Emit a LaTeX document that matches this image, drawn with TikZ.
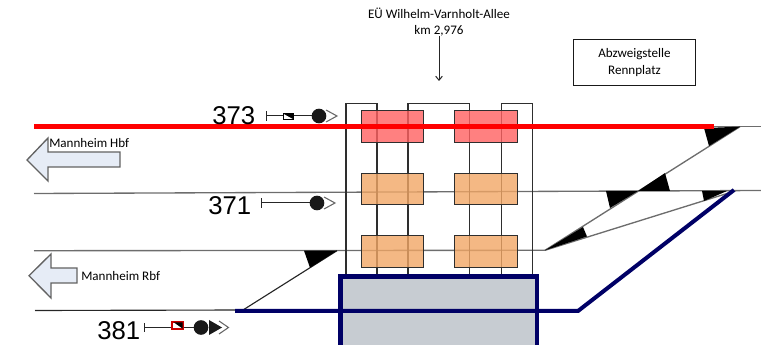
\documentclass[tikz,border=0pt]{standalone}
\usepackage{fontspec}
\setmainfont{Carlito}
\newfontfamily\numfont{Liberation Sans}
\usetikzlibrary{arrows.meta}
\definecolor{navy}{HTML}{000066}
\definecolor{boxred}{HTML}{FF6060}
\definecolor{boxorange}{HTML}{F1A665}
\definecolor{arrowfill}{HTML}{E6ECF6}
\definecolor{darkline}{HTML}{2E2E2E}
\definecolor{abutment}{HTML}{C7CCD2}
\tikzset{
  x=0.75pt,y=-0.75pt,
  track/.style={draw=darkline!70,line width=1pt},
  blacktrack/.style={draw=black!85,line width=0.85pt},
  bridgeline/.style={draw=darkline,line width=0.95pt},
  frog/.style={fill=black,draw=none},
  sigbox/.style={fill opacity=.8,draw=darkline,draw opacity=1,line width=0.95pt,minimum width=47pt,inner sep=0pt},
  redbox/.style={sigbox,fill=boxred,minimum height=23.5pt},
  orangebox/.style={sigbox,fill=boxorange,minimum height=23.5pt},
  dirarrow/.style={fill=arrowfill,draw=darkline!75,line width=1pt,line join=miter},
  lbl/.style={font=\fontsize{9.8}{11}\selectfont,inner sep=0pt,text=black},
  num/.style={font=\numfont\fontsize{19.3}{22}\selectfont,inner sep=0pt,text=black},
  sigline/.style={draw=black!85,line width=0.75pt},
  chevron/.style={draw=black!60,line width=0.8pt},
  lamp/.style={circle,fill=black!90,minimum size=11pt,inner sep=0pt},
  redline/.style={draw=red,line width=3.8pt},
  navyline/.style={draw=navy,line width=3pt}
}
\begin{document}
\begin{tikzpicture}
\useasboundingbox (0,0) rectangle (761,345);
\clip (0,0) rectangle (761,345);
% coordinates
\coordinate (L1) at (34,193.5);
\coordinate (R1) at (761,190.5);
\coordinate (L2) at (34,250.7);
\coordinate (J2) at (545,250.3);
\coordinate (L3) at (35,310.5);
\coordinate (J3) at (243,310);
\coordinate (S3) at (337,250.7);
\coordinate (T1) at (714,126.7);
\coordinate (T2) at (761,126.7);
\coordinate (D1) at (740,126.7);
\coordinate (D2) at (736,190.7);
% tracks
\draw[track] (L1) -- (R1);
\draw[track] (L2) -- (J2);
\draw[track] (J2) -- (D1);
\draw[track] (T1) -- (T2);
\draw[track] (J2) -- (D2);
\draw[blacktrack] (L3) -- (J3) -- (S3);
% frogs
\fill[frog] (304,250.7) -- (337,250.7) -- (310,267.7) -- cycle;
\fill[frog] (704,128) -- (740,126.7) -- (709,146) -- cycle;
\fill[frog] (665,173) -- (670,191) -- (638,191) -- cycle;
\fill[frog] (606,191) -- (638,191) -- (610,208) -- cycle;
\fill[frog] (545,250.3) -- (583,227) -- (587,236.5) -- cycle;
\fill[frog] (702,191) -- (727,191) -- (704,201) -- cycle;
% bridge structure
\draw[bridgeline] (346,276) -- (346,103.5) -- (377,103.5) -- (377,276);
\draw[bridgeline] (408,276) -- (408,103.5) -- (469.5,103.5) -- (469.5,276);
\draw[bridgeline] (501.5,276) -- (501.5,103.5) -- (532.5,103.5) -- (532.5,276);
% boxes
\node[redbox] (a1) at (392.5,126.5) {};
\node[redbox] (a2) at (486,126.5) {};
\node[orangebox] (b1) at (392.5,189) {};
\node[orangebox] (b2) at (486,189) {};
\node[orangebox] (c1) at (392.5,251.5) {};
\node[orangebox] (c2) at (486,251.5) {};
% abutment
\draw[navy,line width=3.6pt,fill=abutment] (340.5,276.5) rectangle (537,360);
% red and navy tracks
\draw[redline] (34,126.5) -- (714,126.5);
\draw[navyline] (235,311) -- (578,311) -- (734,190);
% direction arrows
\path[dirarrow] (27,160) -- (48,138) -- (48,152) -- (120,152) -- (120,167) -- (48,167) -- (48,181) -- cycle;
\path[dirarrow] (29,275.7) -- (51,254) -- (51,268) -- (77,268) -- (77,283) -- (51,283) -- (51,298) -- cycle;
\node[lbl,anchor=west] (hbf) at (49,143.5) {Mannheim Hbf};
\node[lbl,anchor=west] (rbf) at (81,276) {Mannheim Rbf};
% numbers
\node[num,anchor=west] (n373) at (212,116) {373};
\node[num,anchor=west] (n371) at (208,206) {371};
\node[num,anchor=west] (n381) at (97,331) {381};
% signal 373
\draw[sigline] (266,111) -- (266,121);
\draw[sigline] (266,116) -- (312,116);
\draw[chevron] (326,110) -- (337,116) -- (326,122);
\draw[fill=white,draw=black,line width=0.7pt] (283,113.5) rectangle (293,119);
\fill[black] (283,113.5) -- (293,113.5) -- (293,119) -- cycle;
\node[lamp] (l373) at (319,116) {};
% signal 371
\draw[sigline] (261,198.5) -- (261,208);
\draw[sigline] (261,203) -- (312,203);
\draw[chevron] (324,197) -- (335,203) -- (324,209);
\node[lamp] (l371) at (317,203) {};
% signal 381
\draw[sigline] (144.5,323) -- (144.5,332.5);
\draw[sigline] (144.5,327.7) -- (195,327.7);
\fill[black!90] (209,320) -- (222,327.5) -- (209,335) -- cycle;
\draw[chevron] (219,321) -- (228.5,327.5) -- (219,334);
\draw[fill=white,draw=red!80!black,line width=0.8pt] (172,322) rectangle (183,329);
\fill[black] (174,322.5) -- (182.6,322.5) -- (182.6,328.6) -- cycle;
\node[lamp] (l381) at (201,327.5) {};
% top labels
\node[lbl,align=center,font=\fontsize{9.8}{12}\selectfont] (eu) at (439,22) {EÜ Wilhelm-Varnholt-Allee\\km 2,976};
\coordinate (bridgetop) at (439,81);
\draw[-{Straight Barb[length=3pt,width=5pt]},draw=black!85,line width=0.75pt] (439,36) -- (bridgetop);
\node[draw=black!90,line width=0.85pt,minimum width=92pt,minimum height=35pt,inner sep=0pt,lbl,align=center,font=\fontsize{9.8}{13.2}\selectfont] (abzw) at (634.5,62.5) {Abzweigstelle\\Rennplatz};
\end{tikzpicture}
\end{document}
